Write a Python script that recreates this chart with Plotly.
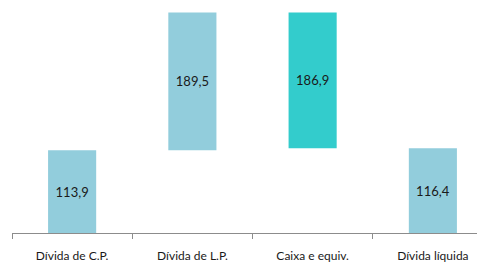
import plotly.graph_objects as go

categories = ["Dívida de C.P.", "Dívida de L.P.", "Caixa e equiv.", "Dívida líquida"]
values = [113.9, 189.5, -186.9, 116.4]
measures = ["absolute", "relative", "relative", "total"]
labels = [f"{abs(v):.1f}".replace(".", ",") for v in values]

fig = go.Figure(go.Waterfall(
    x=categories,
    y=values,
    measure=measures,
    text=labels,
    textposition="inside",
    insidetextanchor="middle",
    textfont=dict(family="Lato", size=13, color="#1a1a1a"),
    increasing=dict(marker=dict(color="#92CDDC")),
    decreasing=dict(marker=dict(color="#33CCCC")),
    totals=dict(marker=dict(color="#92CDDC")),
    connector=dict(visible=False),
    width=0.4,
    hoverinfo="skip",
))

fig.update_layout(
    width=485, height=262,
    margin=dict(l=4, r=0, t=0, b=37),
    paper_bgcolor="white", plot_bgcolor="white",
    showlegend=False,
    font=dict(family="Lato", size=12, color="#1a1a1a"),
)
fig.update_xaxes(
    range=[-0.5, 3.5],
    showline=True, linecolor="#8c8c8c", linewidth=1,
    ticks="outside", tickson="boundaries", ticklen=5, tickcolor="#8c8c8c",
    showgrid=False, zeroline=False,
    ticklabelstandoff=12,
    tickfont=dict(family="Lato", size=12, color="#1a1a1a"),
)
fig.update_yaxes(range=[0, 309.5], visible=False, showgrid=False, zeroline=False)

fig.write_html("out.html")
